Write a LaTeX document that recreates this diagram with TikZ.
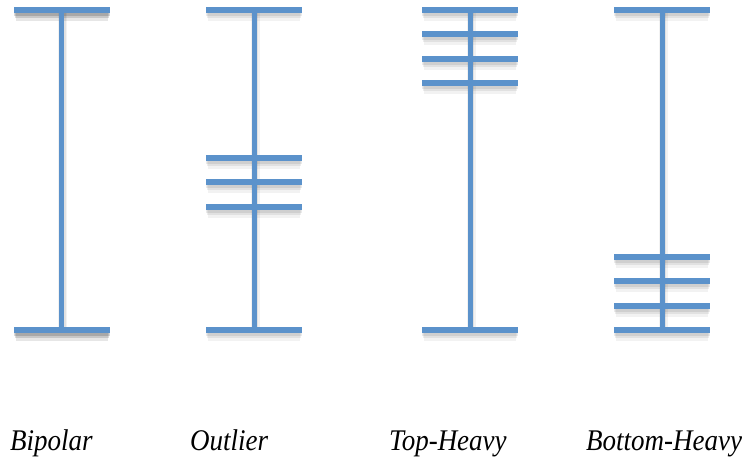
\documentclass[tikz,border=0pt]{standalone}
\usepackage{fontspec}
\setmainfont{Liberation Serif}
\definecolor{barblue}{RGB}{91,146,203}
\newcommand{\barshade}[3]{% x1 x2 y
  \draw[shadeA] (#1+2,#3+4.5) -- (#2-2,#3+4.5);
  \draw[shadeB] (#1+1,#3+4) -- (#2-1,#3+4);
  \draw[shadeC] (#1,#3+3.5) -- (#2,#3+3.5);
}
\newcommand{\stemshade}[3]{% x y1 y2
  \draw[line width=9pt, black, opacity=0.05] (#1+1,#2) -- (#1+1,#3);
  \draw[line width=6pt, black, opacity=0.07] (#1+1,#2) -- (#1+1,#3);
}
\newcommand{\condensed}[1]{\scalebox{0.9}[1]{#1}}
\begin{document}
\begin{tikzpicture}[x=1pt,y=-1pt,
  shadeA/.style={line width=12pt, black, opacity=0.05},
  shadeB/.style={line width=8pt, black, opacity=0.07},
  shadeC/.style={line width=5pt, black, opacity=0.08},
  barline/.style={line width=5.5pt, barblue},
  stem/.style={line width=5pt, barblue},
  lab/.style={anchor=base west, inner sep=0pt, font=\fontsize{30}{30}\selectfont\itshape}]
\useasboundingbox (0,0) rectangle (747,461);
% shadows
\stemshade{61.5}{10}{330}
\stemshade{254}{10}{330}
\stemshade{470}{10}{330}
\stemshade{662}{10}{330}
\barshade{14}{110}{10}\barshade{14}{110}{10}
\barshade{14}{110}{330}\barshade{14}{110}{330}
\foreach \y in {10,158,182,207,330}{\barshade{206}{302}{\y}}
\foreach \y in {10,34,59,83,330}{\barshade{422}{518}{\y}}
\foreach \y in {10,257,281,306,330}{\barshade{614}{710}{\y}}
% Bipolar
\coordinate (b1) at (61.5,10); \coordinate (b2) at (61.5,330);
\draw[stem] (b1) -- (b2);
\draw[barline] (14,10) -- (110,10);
\draw[barline] (14,330) -- (110,330);
% Outlier
\coordinate (o1) at (254,10); \coordinate (o2) at (254,330);
\draw[stem] (o1) -- (o2);
\foreach \y in {10,158,182,207,330}{\draw[barline] (206,\y) -- (302,\y);}
% Top-Heavy
\coordinate (t1) at (470,10); \coordinate (t2) at (470,330);
\draw[stem] (t1) -- (t2);
\foreach \y in {10,34,59,83,330}{\draw[barline] (422,\y) -- (518,\y);}
% Bottom-Heavy
\coordinate (h1) at (662,10); \coordinate (h2) at (662,330);
\draw[stem] (h1) -- (h2);
\foreach \y in {10,257,281,306,330}{\draw[barline] (614,\y) -- (710,\y);}
% labels
\node[lab] (l1) at (10,450) {\condensed{Bipolar}};
\node[lab] (l2) at (190,450) {\condensed{Outlier}};
\node[lab] (l3) at (389,450) {\condensed{Top-Heavy}};
\node[lab] (l4) at (586,450) {\condensed{Bottom-Heavy}};
\end{tikzpicture}
\end{document}
